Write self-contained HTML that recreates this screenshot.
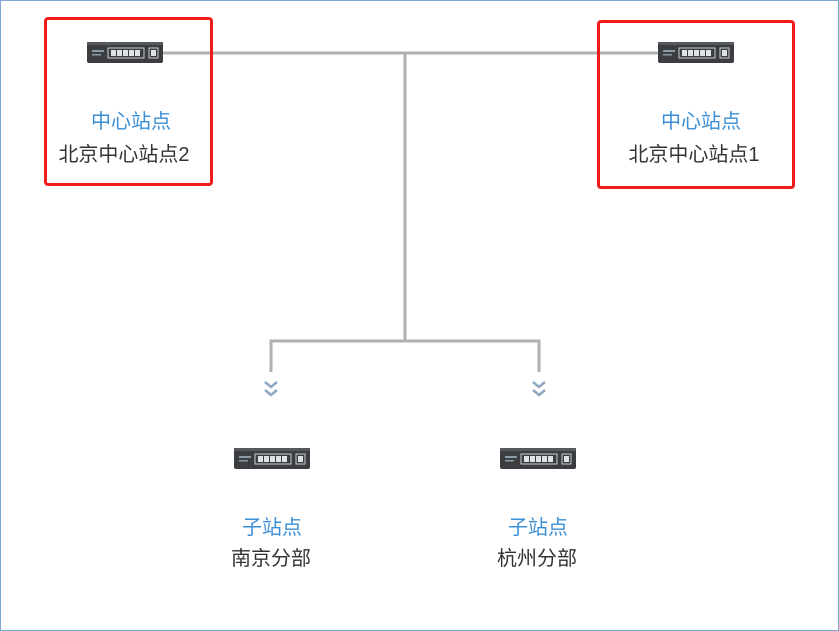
<!DOCTYPE html>
<html><head><meta charset="utf-8"><style>
body{margin:0;width:839px;height:631px;background:#fff;position:relative;overflow:hidden;font-family:"Liberation Sans","Noto Sans CJK SC",sans-serif}
.frame{position:absolute;left:0;top:0;width:837px;height:629px;border:1px solid #7fa7d3}
.t{position:absolute;font-size:20px;white-space:nowrap;transform:translateX(-50%);line-height:22px}
.b{color:#3a8fd6}.k{color:#333}
.box{position:absolute;border:3px solid #f01c1c;border-radius:4px}
</style></head><body>
<div class="frame"></div>
<svg width="839" height="631" style="position:absolute;left:0;top:0">
<defs>
<g id="sw">
<rect x="0" y="0" width="76" height="21" rx="2" fill="#3b3d40"/>
<rect x="0" y="0" width="76" height="3" fill="#55585c"/>
<rect x="5" y="8" width="12" height="2" fill="#8a9aa6"/>
<rect x="5" y="12" width="9" height="1.5" fill="#8a9aa6"/>
<rect x="21" y="6" width="36" height="10" fill="none" stroke="#c8cdd2" stroke-width="1"/>
<rect x="24" y="8" width="5" height="6" fill="#dfe3e6"/><rect x="30" y="8" width="5" height="6" fill="#dfe3e6"/><rect x="36" y="8" width="5" height="6" fill="#dfe3e6"/><rect x="42" y="8" width="5" height="6" fill="#dfe3e6"/><rect x="48" y="8" width="5" height="6" fill="#dfe3e6"/>
<rect x="62" y="6" width="9" height="10" fill="none" stroke="#c8cdd2"/>
<rect x="64" y="8" width="5" height="6" fill="#dfe3e6"/>
</g>
<g id="ch" fill="none" stroke="#8fa7c2" stroke-width="2.5">
<polyline points="-6,0 0,5 6,0"/><polyline points="-6,8 0,13 6,8"/>
</g>
</defs>
<g stroke="#b0b0b0" stroke-width="3" fill="none">
<line x1="163" y1="53" x2="658" y2="53"/>
<line x1="405" y1="53" x2="405" y2="340"/>
<polyline points="271,372 271,341 539,341 539,372"/>
</g>
<use href="#ch" x="271" y="382"/>
<use href="#ch" x="539" y="382"/>
<use href="#sw" x="87" y="42"/>
<use href="#sw" x="658" y="42"/>
<use href="#sw" x="234" y="448"/>
<use href="#sw" x="500" y="448"/>
</svg>
<div class="box" style="left:44px;top:17px;width:163px;height:163px"></div>
<div class="box" style="left:597px;top:20px;width:192px;height:163px"></div>
<div class="t b" style="left:131px;top:111px">中心站点</div>
<div class="t k" style="left:124px;top:144px">北京中心站点2</div>
<div class="t b" style="left:701px;top:111px">中心站点</div>
<div class="t k" style="left:694px;top:144px">北京中心站点1</div>
<div class="t b" style="left:272px;top:517px">子站点</div>
<div class="t k" style="left:271px;top:548px">南京分部</div>
<div class="t b" style="left:538px;top:517px">子站点</div>
<div class="t k" style="left:537px;top:548px">杭州分部</div>
</body></html>
